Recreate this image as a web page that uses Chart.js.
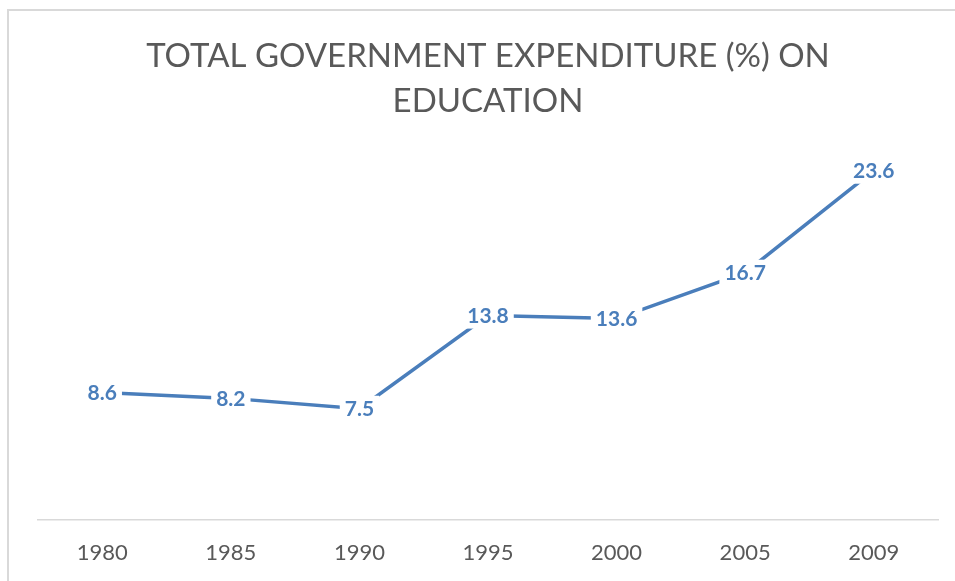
<!DOCTYPE html>
<html lang="en-US">
<head>
  <meta charset="utf-8">
  <title>Total government expenditure on education</title>
  <script src="https://cdn.jsdelivr.net/npm/chart.js@4/dist/chart.umd.min.js"></script>
  <style>
    html, body { margin: 0; padding: 0; background: #fff; overflow: hidden; }
    .frame {
      position: absolute; left: 7px; top: 9px;
      width: 1000px; height: 700px;
      border: 2px solid #d9d9d9;
    }
    #chart-0 { position: absolute; left: 0; top: 0; }
  </style>
</head>
<body>
  <div class="frame"></div>
  <canvas id="chart-0" width="955" height="581"></canvas>

  <script>
    let years = ['1980', '1985', '1990', '1995', '2000', '2005', '2009'];
    let spending = [8.6, 8.2, 7.5, 13.8, 13.6, 16.7, 23.6];
    let titleLines = ['TOTAL GOVERNMENT EXPENDITURE (%) ON', 'EDUCATION'];

    let blue = '#4a7ebb';

    // Excel style centred labels with a white box that hides the line
    let pointLabels = {
      id: 'pointLabels',
      afterDatasetsDraw(chart) {
        let ctx = chart.ctx;
        let meta = chart.getDatasetMeta(0);
        ctx.save();
        ctx.font = 'bold 21px Lato, "Open Sans", sans-serif';
        ctx.textAlign = 'center';
        ctx.textBaseline = 'middle';
        meta.data.forEach(function(pt, i) {
          let txt = String(chart.data.datasets[0].data[i]);
          let w = ctx.measureText(txt).width + 10;
          ctx.fillStyle = '#fff';
          ctx.fillRect(pt.x - w / 2, pt.y - 13, w, 26);
          ctx.fillStyle = blue;
          ctx.fillText(txt, pt.x, pt.y + 1);
        });
        ctx.restore();
      }
    };

    let chart = new Chart('chart-0', {
      type: 'line',
      data: {
        labels: years,
        datasets: [{
          data: spending,
          borderColor: blue,
          borderWidth: 3.5,
          pointRadius: 0,
          pointHoverRadius: 0,
          tension: 0
        }]
      },
      options: {
        responsive: false,
        animation: false,
        layout: {
          padding: { left: 38, right: 17, top: 0, bottom: -5 }
        },
        plugins: {
          legend: { display: false },
          tooltip: { enabled: false },
          title: {
            display: true,
            text: titleLines,
            color: '#595959',
            font: { family: 'Lato, "Open Sans", sans-serif', size: 33, weight: '400', lineHeight: 1.364 },
            padding: { top: 34, bottom: 26 }
          }
        },
        scales: {
          x: {
            offset: true,
            grid: { display: false, drawTicks: false },
            border: { display: true, color: '#d9d9d9', width: 1.5 },
            ticks: {
              color: '#595959',
              padding: 20,
              font: { family: 'Lato, "Open Sans", sans-serif', size: 22 }
            }
          },
          y: {
            display: false,
            min: 0,
            max: 25
          }
        }
      },
      plugins: [pointLabels]
    });
  </script>
</body>
</html>
